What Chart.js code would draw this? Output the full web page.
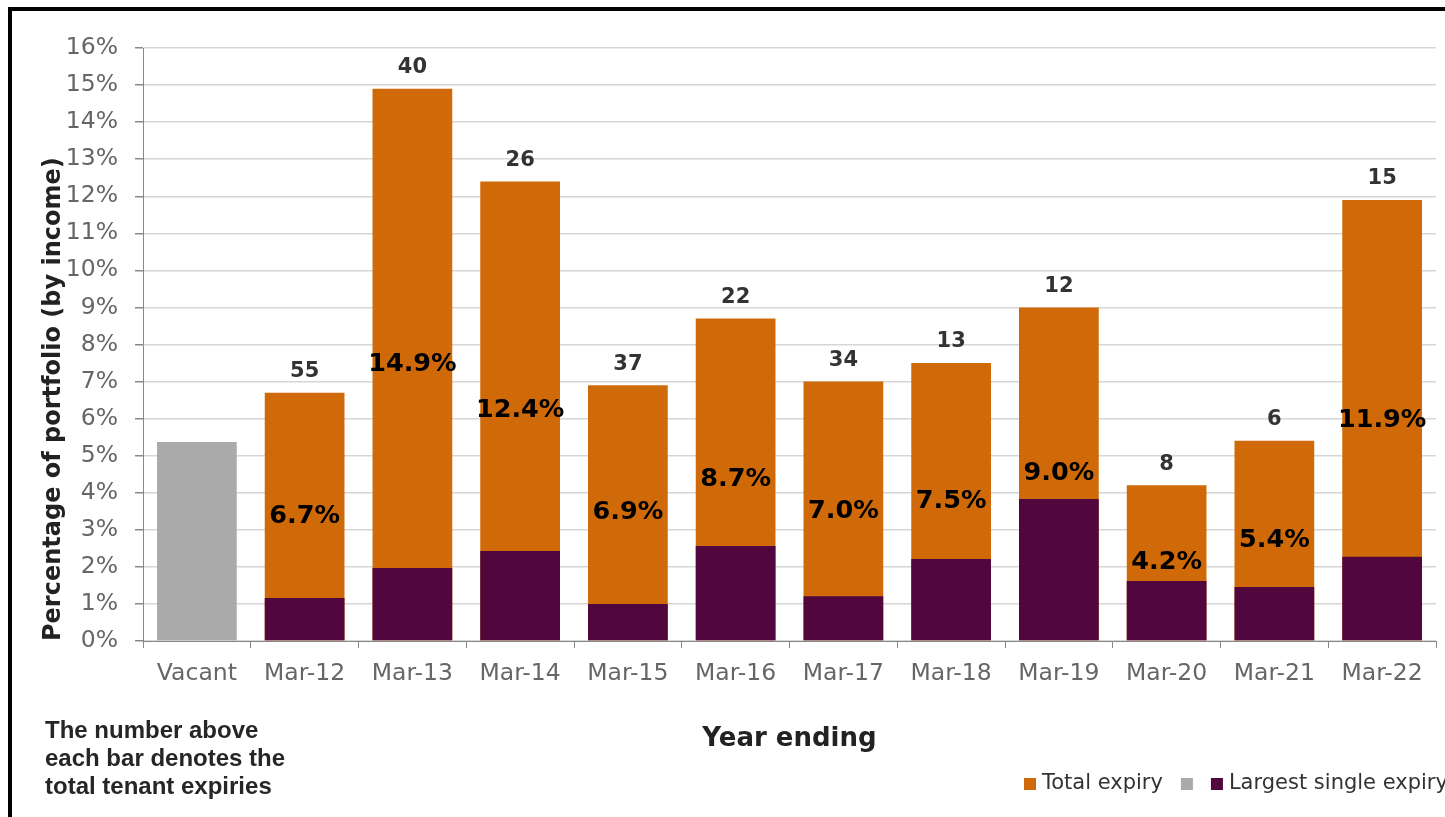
<!DOCTYPE html>
<html>
<head>
<meta charset="utf-8">
<script src="https://cdn.jsdelivr.net/npm/chart.js@4.4.1/dist/chart.umd.min.js"></script>
<style>
  html, body { margin: 0; padding: 0; background: #fff; overflow: hidden; width: 1445px; height: 817px; }
  #frame { position: absolute; left: 8px; top: 7px; width: 1500px; height: 900px;
           border-left: 4px solid #000; border-top: 4px solid #000; }
  #chart { position: absolute; left: 0; top: 0; }
  #note { position: absolute; left: 45px; top: 716px; color: #262626;
          font: bold 24px "Liberation Sans", Arial, sans-serif; line-height: 28px; }
</style>
</head>
<body>
<div id="frame"><canvas id="chart" width="1480" height="850"></canvas></div>
<div id="note">The number above<br>each bar denotes the<br>total tenant expiries</div>
<script>
// values (% of portfolio by income)
const categories = ["Vacant", "Mar-12", "Mar-13", "Mar-14", "Mar-15", "Mar-16", "Mar-17", "Mar-18", "Mar-19", "Mar-20", "Mar-21", "Mar-22"];
const vacant = [5.37, null, null, null, null, null, null, null, null, null, null, null];
const totalExpiry = [null, 6.7, 14.9, 12.4, 6.9, 8.7, 7.0, 7.5, 9.0, 4.2, 5.4, 11.9];
const largestExpiry = [null, 1.16, 1.97, 2.43, 1.0, 2.56, 1.21, 2.21, 3.83, 1.62, 1.46, 2.27];
const tenantCounts = [null, 55, 40, 26, 37, 22, 34, 13, 12, 8, 6, 15];

const FONT = "'DejaVu Sans', Verdana, sans-serif";

// count above each bar + total % in the middle of the orange bar
const barLabels = {
    id: "barLabels",
    afterDatasetsDraw(chart) {
        const ctx = chart.ctx;
        const meta = chart.getDatasetMeta(0);
        ctx.save();
        ctx.textAlign = "center";
        ctx.textBaseline = "middle";
        meta.data.forEach((bar, i) => {
            if (totalExpiry[i] == null) return;
            ctx.fillStyle = "#000";
            ctx.font = "bold 25.5px " + FONT;
            ctx.fillText(totalExpiry[i].toFixed(1) + "%", bar.x, (bar.y + bar.base) / 2);
            ctx.fillStyle = "#333";
            ctx.font = "bold 21px " + FONT;
            ctx.fillText(String(tenantCounts[i]), bar.x, bar.y - 21);
        });
        ctx.restore();
    }
};

// legend row at the bottom right, runs off the edge like the original
const legendRow = {
    id: "legendRow",
    afterDraw(chart) {
        const ctx = chart.ctx;
        let x = 1012;
        const y = 773;
        ctx.save();
        ctx.font = "21px " + FONT;
        ctx.textBaseline = "middle";
        chart.data.datasets.forEach(ds => {
            ctx.fillStyle = ds.backgroundColor;
            ctx.fillRect(x, y - 6, 12, 12);
            x += 12;
            if (ds.label) {
                x += 6;
                ctx.fillStyle = "#333";
                ctx.fillText(ds.label, x, y);
                x += ctx.measureText(ds.label).width;
            }
            x += 18;
        });
        ctx.restore();
    }
};

const ctx = document.getElementById("chart").getContext("2d");
new Chart(ctx, {
    type: "bar",
    data: {
        labels: categories,
        datasets: [
            { label: "Total expiry", data: totalExpiry, backgroundColor: "#D06A08", order: 1 },
            { label: "", data: vacant, backgroundColor: "#AAAAAA", order: 2 },
            { label: "Largest single expiry", data: largestExpiry, backgroundColor: "#52063E", order: 0 }
        ]
    },
    options: {
        responsive: false,
        animation: false,
        devicePixelRatio: 1,
        barPercentage: 0.74,
        categoryPercentage: 1,
        layout: { padding: { top: 37, right: 56, left: 0, bottom: 0 } },
        plugins: {
            legend: { display: false },
            tooltip: { enabled: false }
        },
        scales: {
            x: {
                stacked: true,
                afterFit: s => { s.height = 220; },
                grid: { offset: true, drawOnChartArea: false, tickLength: 7, tickColor: "#888" },
                border: { color: "#888" },
                ticks: { color: "#666", padding: 12, font: { family: FONT, size: 23.5 } },
                title: {
                    display: true, text: "Year ending", color: "#222",
                    padding: { top: 0, bottom: 106 },
                    font: { family: FONT, size: 26, weight: "bold" }
                }
            },
            y: {
                stacked: false,
                min: 0,
                max: 16,
                afterFit: s => { s.width = 131; },
                grid: { color: "#d6d6d6", lineWidth: 1.5, tickLength: 8, tickColor: "#888" },
                border: { color: "#888" },
                ticks: {
                    stepSize: 1, color: "#666", padding: 17,
                    font: { family: FONT, size: 23.5 },
                    callback: v => v + "%"
                },
                title: {
                    display: true, text: "Percentage of portfolio (by income)", color: "#222",
                    align: "start",
                    padding: { top: 27, bottom: 0 },
                    font: { family: FONT, size: 24, weight: "bold" }
                }
            }
        }
    },
    plugins: [barLabels, legendRow]
});
</script>
</body>
</html>
